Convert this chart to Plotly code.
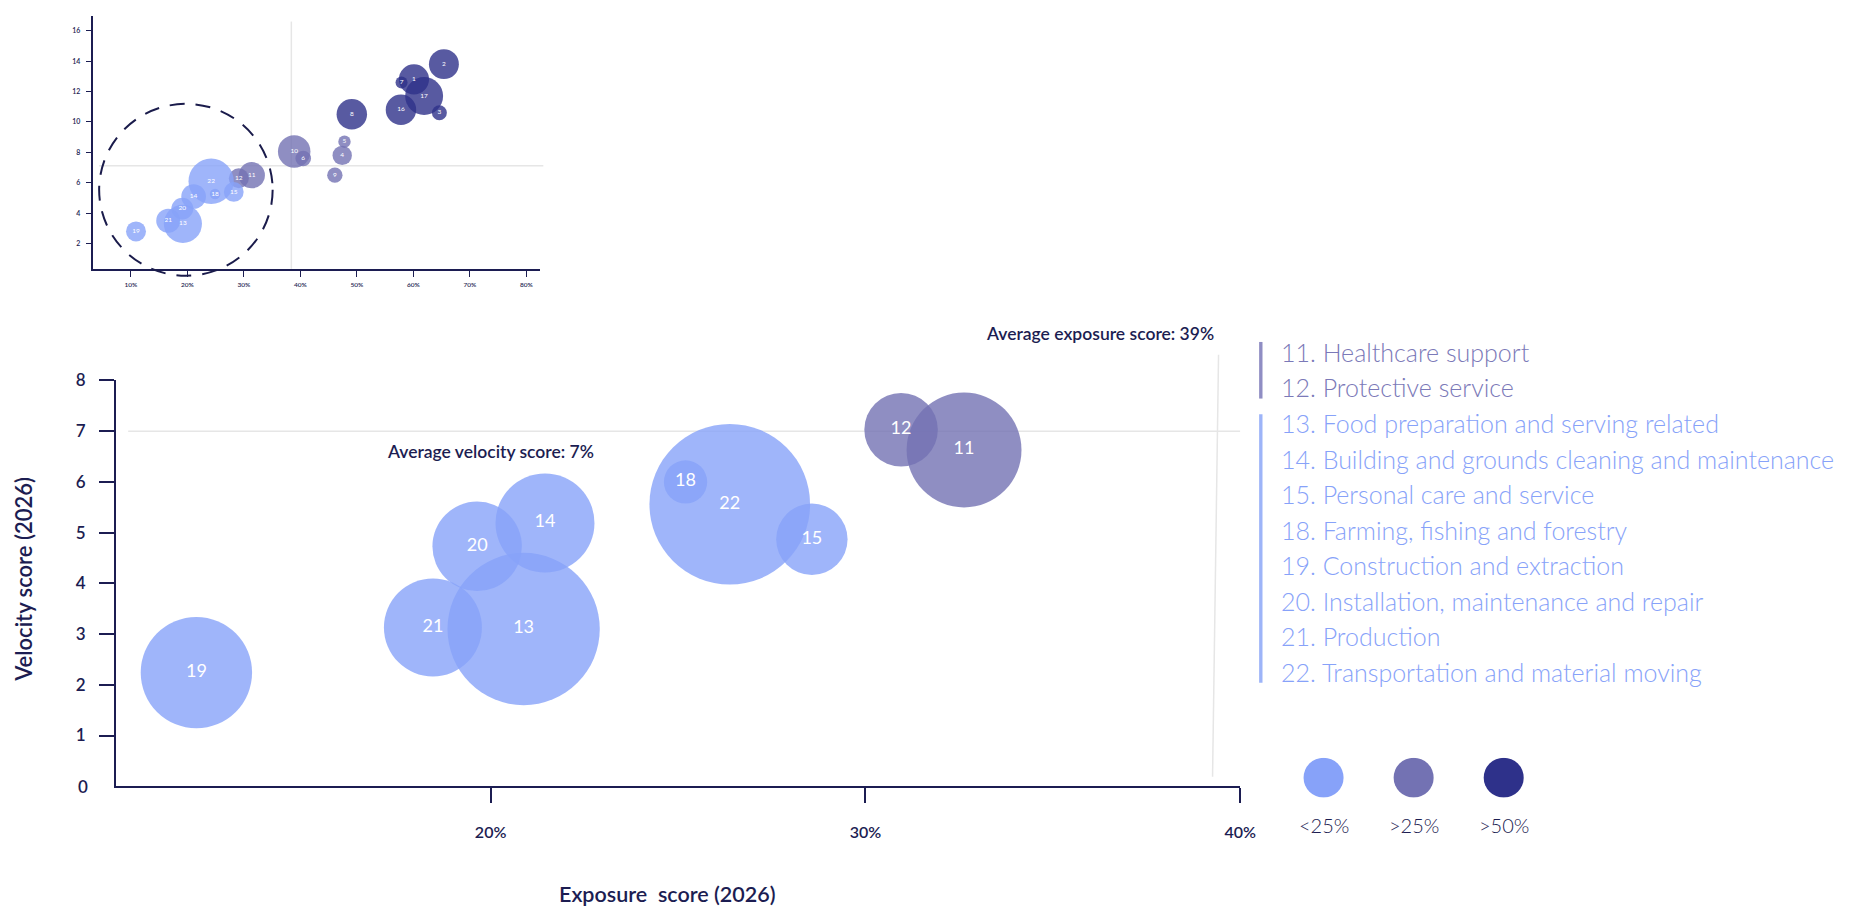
import plotly.graph_objects as go

# ---------------- data ----------------
# overview (inset) chart: all 22 occupation groups
inset_ids = [str(i) for i in range(1, 23)]
inset_exposure = [60.1, 65.4, 64.6, 47.4, 47.8, 40.5, 57.9, 49.1, 46.1, 38.9, 31.4,
                  29.1, 19.2, 21.1, 28.2, 57.8, 61.9, 24.9, 10.9, 19.1, 16.6, 24.2]
inset_velocity = [12.8, 13.8, 10.6, 7.8, 8.7, 7.6, 12.6, 10.5, 6.5, 8.05, 6.5,
                  6.3, 3.3, 5.1, 5.4, 10.8, 11.7, 5.26, 2.8, 4.3, 3.5, 6.1]
inset_size = [5.7, 5.6, 1.4, 2.35, 0.96, 1.52, 0.9, 5.8, 1.48, 6.6, 4.3,
              2.5, 9.1, 3.8, 2.45, 5.8, 9.0, 0.7, 2.5, 3.0, 3.6, 12.8]
inset_group = ["high", "high", "high", "mid", "mid", "mid", "high", "high", "mid", "mid", "mid",
               "mid", "low", "low", "low", "high", "high", "low", "low", "low", "low", "low"]

# detail (main) chart
main_ids = ["11", "12", "13", "14", "15", "18", "19", "20", "21", "22"]
main_exposure = [32.63, 30.95, 20.88, 21.45, 28.57, 25.20, 12.15, 19.64, 18.46, 26.38]
main_velocity = [6.63, 7.03, 3.10, 5.19, 4.87, 6.00, 2.24, 4.73, 3.13, 5.56]
main_size = [6.6, 2.7, 11.6, 4.9, 2.55, 0.94, 6.2, 4.0, 4.8, 12.9]
main_group = ["mid", "mid", "low", "low", "low", "low", "low", "low", "low", "low"]

legend_labels = [
    "11. Healthcare support",
    "12. Protective service",
    "13. Food preparation and serving related",
    "14. Building and grounds cleaning and maintenance",
    "15. Personal care and service",
    "18. Farming, fishing and forestry",
    "19. Construction and extraction",
    "20. Installation, maintenance and repair",
    "21. Production",
    "22. Transportation and material moving",
]
legend_groups = ["mid", "mid"] + ["low"] * 8

group_keys = ["low", "mid", "high"]
group_names = ["<25%", ">25%", ">50%"]

main_x_ticks = [20, 30, 40]
main_y_ticks = [1, 2, 3, 4, 5, 6, 7, 8]
main_y_origin = 0
inset_x_ticks = [10, 20, 30, 40, 50, 60, 70, 80]
inset_y_ticks = [2, 4, 6, 8, 10, 12, 14, 16]

avg_velocity = 7
avg_exposure = 39
avg_velocity_inset = 7.12
avg_exposure_inset = 38.4
avg_exposure_main_line = [39.42, 39.26]

# ---------------- style ----------------
W, H = 1869, 911
NAVY = "#1c1d52"
GRID = "#e6e6e6"
FONT = "Lato"
GROUP_COLORS = {"low": "#87a2f9", "mid": "#7372b3", "high": "#2e318a"}
LEGEND_TEXT = {"low": "#87a2f9", "mid": "#7b79b8"}
BAR_COLORS = {"low": "#9db4f8", "mid": "#8f8dc3"}


def px(x):
    return x / W


def py(y):
    return 1 - y / H


fig = go.Figure()

# inset bubbles
fig.add_trace(go.Scatter(
    x=inset_exposure, y=inset_velocity, text=inset_ids,
    mode="markers+text", xaxis="x2", yaxis="y2",
    marker=dict(size=inset_size, sizemode="area", sizeref=0.0125,
                color=[GROUP_COLORS[g] for g in inset_group], opacity=0.8,
                line=dict(width=0)),
    textfont=dict(family=FONT, size=6.5, color="white"),
    textposition="middle center", hoverinfo="skip",
))

# main bubbles
fig.add_trace(go.Scatter(
    x=main_exposure, y=main_velocity, text=main_ids,
    mode="markers+text", xaxis="x", yaxis="y",
    marker=dict(size=main_size, sizemode="area", sizeref=0.001,
                color=[GROUP_COLORS[g] for g in main_group], opacity=0.8,
                line=dict(width=0)),
    textfont=dict(family=FONT, size=18, color="white"),
    textposition="middle center", hoverinfo="skip",
))

# colour key circles
fig.add_trace(go.Scatter(
    x=list(range(len(group_keys))), y=[0.5] * len(group_keys),
    mode="markers", xaxis="x3", yaxis="y3",
    marker=dict(size=40, color=[GROUP_COLORS[g] for g in group_keys], line=dict(width=0)),
    hoverinfo="skip",
))

shapes = []
# main average lines
shapes.append(dict(type="line", xref="x", yref="y", x0=10.33, x1=40,
                   y0=avg_velocity, y1=avg_velocity, line=dict(color=GRID, width=1.5), layer="below"))
shapes.append(dict(type="line", xref="x", yref="paper",
                   x0=avg_exposure_main_line[0], y0=py(348),
                   x1=avg_exposure_main_line[1], y1=py(775),
                   line=dict(color=GRID, width=1.5), layer="below"))
# inset average lines
shapes.append(dict(type="line", xref="paper", yref="y2", x0=px(100), x1=px(548),
                   y0=avg_velocity_inset, y1=avg_velocity_inset,
                   line=dict(color=GRID, width=1.5), layer="below"))
shapes.append(dict(type="line", xref="x2", yref="paper", x0=avg_exposure_inset, x1=avg_exposure_inset,
                   y0=py(261), y1=py(10.7), line=dict(color=GRID, width=1.5), layer="below"))
# dashed highlight circle in inset
shapes.append(dict(type="circle", xref="paper", yref="paper",
                   x0=px(100), x1=px(275), y0=py(268), y1=py(94),
                   line=dict(color="#1a1b4b", width=2, dash="15px,11px")))
# legend bars
shapes.append(dict(type="rect", xref="paper", yref="paper", x0=px(1270), x1=px(1273.4),
                   y0=py(392.3), y1=py(335), fillcolor=BAR_COLORS["mid"], line=dict(width=0)))
shapes.append(dict(type="rect", xref="paper", yref="paper", x0=px(1270), x1=px(1273.4),
                   y0=py(680), y1=py(408.3), fillcolor=BAR_COLORS["low"], line=dict(width=0)))

annotations = []
# origin label of the velocity axis (the reference draws no tick mark at 0)
annotations.append(dict(text=str(main_y_origin), xref="paper", yref="y", x=px(91), y=main_y_origin,
                        xanchor="right", yanchor="middle", showarrow=False,
                        font=dict(family=FONT, size=17, color=NAVY, weight=600)))
annotations.append(dict(text="Average velocity score: %d%%" % avg_velocity, xref="paper", yref="paper",
                        x=px(494.8), y=py(445.7), xanchor="center", yanchor="middle", showarrow=False,
                        font=dict(family=FONT, size=17.5, color=NAVY, weight=600)))
annotations.append(dict(text="Average exposure score: %d%%" % avg_exposure, xref="paper", yref="paper",
                        x=px(1226), y=py(326.7), xanchor="right", yanchor="middle", showarrow=False,
                        font=dict(family=FONT, size=17.5, color=NAVY, weight=600)))
annotations.append(dict(text="Velocity score (2026)", xref="paper", yref="paper",
                        x=px(23), y=py(575), textangle=-90, xanchor="center", yanchor="middle",
                        showarrow=False, font=dict(family=FONT, size=22, color=NAVY, weight=600)))
annotations.append(dict(text="Exposure\u00a0 score (2026)", xref="paper", yref="paper",
                        x=px(673), y=py(894), xanchor="center", yanchor="middle", borderpad=0,
                        showarrow=False, font=dict(family=FONT, size=21.5, color=NAVY, weight=600)))
for i, (lab, g) in enumerate(zip(legend_labels, legend_groups)):
    annotations.append(dict(text=lab, xref="paper", yref="paper", x=px(1290), y=py(345 + i * 36),
                            xanchor="left", yanchor="middle", showarrow=False,
                            font=dict(family=FONT, size=25, color=LEGEND_TEXT[g], weight=300)))
for i, name in enumerate(group_names):
    annotations.append(dict(text=name, xref="x3", yref="paper", x=i, y=py(824),
                            xanchor="center", yanchor="middle", showarrow=False,
                            font=dict(family=FONT, size=20, color=NAVY, weight=300)))

fig.update_layout(
    width=W, height=H, margin=dict(l=0, r=0, t=0, b=0),
    paper_bgcolor="white", plot_bgcolor="rgba(0,0,0,0)",
    showlegend=False, shapes=shapes, annotations=annotations,
    xaxis=dict(domain=[px(116.8), px(1251)], range=[10, 40], anchor="y",
               tickvals=main_x_ticks, ticktext=["%d%%" % v for v in main_x_ticks],
               ticks="outside", ticklen=15, tickwidth=1.5, tickcolor=NAVY,
               showline=True, linecolor=NAVY, linewidth=1.5, showgrid=False, zeroline=False,
               ticklabelstandoff=16,
               tickfont=dict(family=FONT, size=16, color=NAVY, weight=600)),
    yaxis=dict(domain=[py(784.7), py(374)], range=[0, 8], anchor="x",
               tickvals=main_y_ticks, ticks="outside", ticklen=15, tickwidth=1.5, tickcolor=NAVY,
               showline=True, linecolor=NAVY, linewidth=1.5, showgrid=False, zeroline=False,
               ticklabelstandoff=10,
               tickfont=dict(family=FONT, size=17, color=NAVY, weight=600)),
    xaxis2=dict(domain=[px(93.3), px(544.6)], range=[3.2, 82.4], anchor="y2",
                tickvals=inset_x_ticks, ticktext=["%d%%" % v for v in inset_x_ticks],
                ticks="outside", ticklen=6, tickwidth=1, tickcolor=NAVY,
                showline=True, linecolor=NAVY, linewidth=1.5, showgrid=False, zeroline=False,
                ticklabelstandoff=3,
                tickfont=dict(family=FONT, size=6.5, color=NAVY, weight=600)),
    yaxis2=dict(domain=[py(261), py(4.7)], range=[0.34, 16.99], anchor="x2",
                tickvals=inset_y_ticks, ticks="outside", ticklen=5, tickwidth=1, tickcolor=NAVY,
                showline=True, linecolor=NAVY, linewidth=1.5, showgrid=False, zeroline=False,
                ticklabelstandoff=4,
                tickfont=dict(family=FONT, size=7, color=NAVY, weight=600)),
    xaxis3=dict(domain=[px(1335 - 45.42), px(1516.7 + 45.42)], range=[-0.5, 2.5], anchor="y3",
                visible=False),
    yaxis3=dict(domain=[py(796), py(756)], range=[0, 1], anchor="x3", visible=False),
)

PAGE_FIX = (
    "document.documentElement.style.margin='0';"
    "document.documentElement.style.overflow='hidden';"
    "document.body.style.margin='0';"
    "document.body.style.overflow='hidden';"
    "var gd=document.querySelector('.plotly-graph-div');"
    "gd.style.position='fixed';gd.style.left='0px';gd.style.top='0px';"
)

fig.write_html("out.html", config={"displayModeBar": False}, post_script=PAGE_FIX)
